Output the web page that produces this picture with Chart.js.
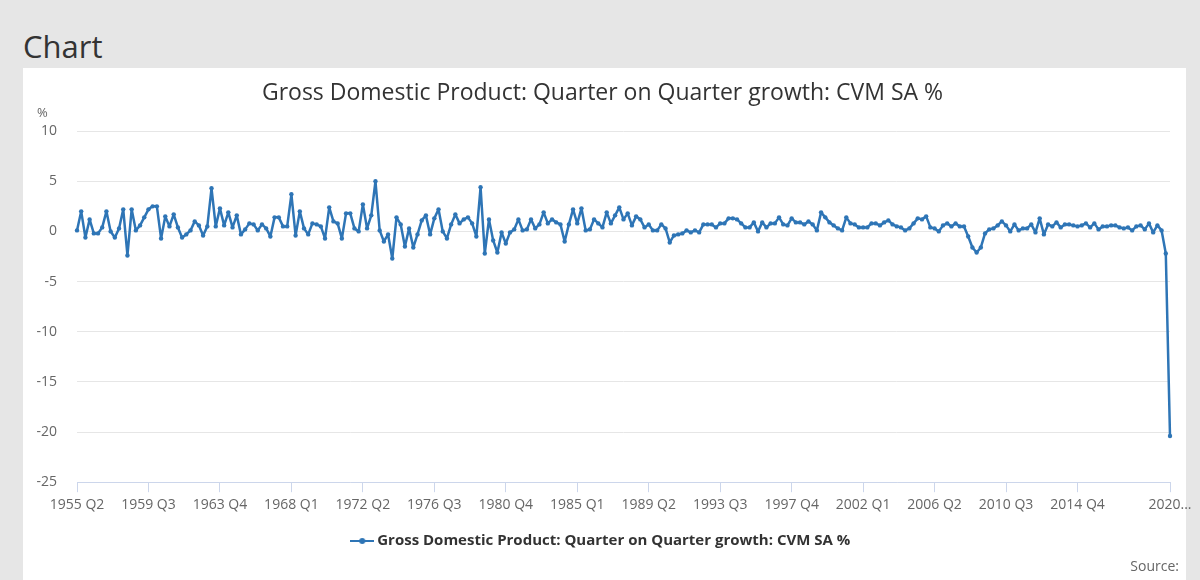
<!DOCTYPE html>
<html>
<head>
<meta charset="utf-8">
<script src="https://cdn.jsdelivr.net/npm/chart.js@4.4.1/dist/chart.umd.min.js"></script>
<style>
  html, body { margin: 0; padding: 0; }
  body { width: 1200px; height: 580px; background: #e6e6e6; position: relative; overflow: hidden; font-family: "Open Sans", sans-serif; }
  h2 { position: absolute; left: 23px; top: 25px; margin: 0; font-weight: normal; font-size: 31px; color: #333; line-height: 42px; }
  #panel { position: absolute; left: 23px; top: 68px; width: 1163px; height: 512px; background: #fff; }
  #wrap { position: absolute; left: 23px; top: 68px; width: 1177px; height: 512px; }
</style>
</head>
<body>
<h2>Chart</h2>
<div id="panel"></div>
<div id="wrap"><canvas id="gdpChart"></canvas></div>
<script>
// quarters 1955 Q2 .. 2020 Q2
const firstYear = 1955, firstQ = 2, nQuarters = 261;
const quarters = [];
for (let k = 0; k < nQuarters; k++) {
    const q = firstQ - 1 + k;
    quarters.push((firstYear + Math.floor(q / 4)) + ' Q' + (q % 4 + 1));
}

// labels shown on the x axis
const shownTicks = ['1955 Q2', '1959 Q3', '1963 Q4', '1968 Q1', '1972 Q2', '1976 Q3', '1980 Q4',
    '1985 Q1', '1989 Q2', '1993 Q3', '1997 Q4', '2002 Q1', '2006 Q2', '2010 Q3', '2014 Q4', '2020 Q2'];

const yTicks = [10, 5, 0, -5, -10, -15, -20, -25];

// GDP q-on-q growth, %
const growth = [
    0.1, 2.0, -0.6, 1.2, -0.2, -0.2, 0.4, 2.0, 0.0, -0.6,
    0.3, 2.2, -2.4, 2.2, 0.1, 0.6, 1.4, 2.2, 2.5, 2.5,
    -0.7, 1.5, 0.5, 1.7, 0.4, -0.6, -0.3, 0.1, 1.0, 0.6,
    -0.4, 0.5, 4.3, 0.5, 2.3, 0.6, 1.9, 0.4, 1.6, -0.3,
    0.2, 0.8, 0.7, 0.1, 0.7, 0.3, -0.5, 1.4, 1.4, 0.5,
    0.5, 3.7, -0.4, 2.0, 0.3, -0.3, 0.8, 0.7, 0.5, -0.7,
    2.4, 1.0, 0.8, -0.7, 1.8, 1.8, 0.3, 0.0, 2.7, 0.3,
    1.6, 5.0, 0.1, -1.0, -0.3, -2.7, 1.4, 0.7, -1.5, 0.3,
    -1.6, -0.3, 1.1, 1.6, -0.3, 1.3, 2.2, 0.0, -0.7, 0.7,
    1.7, 0.8, 1.2, 1.4, 0.8, -0.5, 4.4, -2.2, 1.2, -0.9,
    -2.1, -0.1, -1.2, -0.1, 0.2, 1.2, 0.1, 0.2, 1.2, 0.3,
    0.7, 1.9, 0.8, 1.2, 0.9, 0.7, -1.0, 0.7, 2.2, 0.8,
    2.3, 0.1, 0.2, 1.2, 0.8, 0.4, 1.9, 0.8, 1.6, 2.4,
    1.2, 1.8, 0.6, 1.5, 1.2, 0.4, 0.7, 0.1, 0.1, 0.7,
    0.3, -1.1, -0.4, -0.3, -0.2, 0.1, -0.1, 0.1, -0.1, 0.7,
    0.7, 0.7, 0.4, 0.8, 0.8, 1.3, 1.3, 1.2, 0.8, 0.4,
    0.4, 0.9, 0.0, 0.9, 0.4, 0.8, 0.8, 1.4, 0.7, 0.6,
    1.3, 0.9, 0.9, 0.7, 1.0, 0.7, 0.1, 1.9, 1.4, 0.9,
    0.6, 0.3, 0.1, 1.4, 0.8, 0.7, 0.4, 0.4, 0.4, 0.8,
    0.8, 0.6, 0.9, 1.1, 0.7, 0.5, 0.4, 0.1, 0.3, 0.8,
    1.3, 1.2, 1.5, 0.4, 0.3, 0.0, 0.6, 0.8, 0.5, 0.8,
    0.5, 0.5, -0.5, -1.6, -2.1, -1.6, -0.2, 0.2, 0.3, 0.6,
    1.0, 0.6, 0.0, 0.7, 0.1, 0.3, 0.3, 0.7, -0.1, 1.3,
    -0.3, 0.7, 0.5, 0.9, 0.4, 0.7, 0.7, 0.6, 0.5, 0.6,
    0.8, 0.4, 0.8, 0.2, 0.5, 0.5, 0.6, 0.6, 0.4, 0.3,
    0.4, 0.1, 0.5, 0.6, 0.2, 0.8, -0.1, 0.6, 0.1, -2.2,
    -20.4
];

const seriesName = 'Gross Domestic Product: Quarter on Quarter growth: CVM SA %';
const blue = '#2e75b6';

// legend marker: line with a dot
const marker = document.createElement('canvas');
marker.width = 24; marker.height = 10;
const mctx = marker.getContext('2d');
mctx.strokeStyle = blue; mctx.lineWidth = 2;
mctx.beginPath(); mctx.moveTo(0, 5); mctx.lineTo(24, 5); mctx.stroke();
mctx.fillStyle = blue;
mctx.beginPath(); mctx.arc(12, 5, 3, 0, Math.PI * 2); mctx.fill();

const extraText = {
    id: 'extraText',
    afterDraw(chart) {
        const ctx = chart.ctx;
        const y = chart.scales.y;
        ctx.save();
        ctx.fillStyle = '#666';
        ctx.font = '13px "Open Sans"';
        ctx.textAlign = 'left';
        ctx.textBaseline = 'middle';
        ctx.fillText('%', 14, y.top - 18);
        ctx.font = '14px "Open Sans"';
        ctx.textAlign = 'right';
        ctx.fillText('Source:', 1156, 499);
        ctx.restore();
    }
};

const ctxGdp = document.getElementById('gdpChart').getContext('2d');
const gdpChart = new Chart(ctxGdp, {
    type: 'line',
    data: {
        labels: quarters,
        datasets: [{
            label: seriesName,
            data: growth,
            borderColor: blue,
            backgroundColor: blue,
            borderWidth: 2.5,
            borderJoinStyle: 'round',
            borderCapStyle: 'round',
            pointRadius: 2.2,
            pointHoverRadius: 3,
            pointBorderWidth: 0,
            tension: 0
        }]
    },
    options: {
        responsive: true,
        maintainAspectRatio: false,
        animation: false,
        layout: { autoPadding: false, padding: { left: 12, right: 30, top: 0, bottom: 21.5 } },
        plugins: {
            title: {
                display: true,
                text: seriesName,
                color: '#333',
                font: { family: '"Open Sans"', size: 23, weight: 'normal' },
                padding: { top: 12, bottom: 23.5 }
            },
            legend: {
                position: 'bottom',
                labels: {
                    color: '#333',
                    font: { family: '"Open Sans"', size: 15, weight: 'bold' },
                    usePointStyle: true,
                    pointStyle: marker,
                    padding: 16.5
                }
            },
            tooltip: { enabled: false }
        },
        scales: {
            x: {
                grid: { drawOnChartArea: false, color: '#ccd6eb', tickLength: 10 },
                border: { color: '#ccd6eb' },
                ticks: {
                    autoSkip: false,
                    maxRotation: 0,
                    color: '#666',
                    padding: 4,
                    font: { family: '"Open Sans"', size: 14 },
                    callback: function (v) {
                        const lab = this.getLabelForValue(v);
                        if (!shownTicks.includes(lab)) return null;
                        return lab === '2020 Q2' ? '2020...' : lab;
                    }
                }
            },
            y: {
                min: -25,
                max: 10,
                afterBuildTicks: (axis) => { axis.ticks = yTicks.map(v => ({ value: v })); },
                afterFit: (axis) => { axis.width = 42; },
                grid: { color: '#e6e6e6', drawTicks: false },
                border: { display: false },
                ticks: {
                    color: '#666',
                    padding: 20,
                    font: { family: '"Open Sans"', size: 14 }
                }
            }
        }
    },
    plugins: [extraText]
});
</script>
</body>
</html>
